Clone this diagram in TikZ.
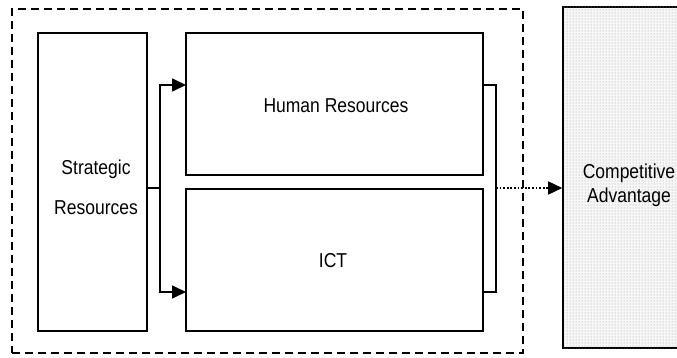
\documentclass[tikz,border=0pt]{standalone}
\usepackage{fontspec}
\usepackage{graphicx}
\setmainfont{Liberation Sans}
\usetikzlibrary{arrows.meta,patterns}
\newcommand{\vst}[1]{\scalebox{1}[1.15]{#1}}
\begin{document}
\begin{tikzpicture}[x=1pt,y=-1pt,
  boxstyle/.style={draw,line width=1.6pt,rectangle,inner sep=0pt,font=\fontsize{17.5}{21}\selectfont},
  txt/.style={font=\fontsize{17.5}{21}\selectfont,align=center,inner sep=0pt},
  conn/.style={line width=1.6pt},
  arr/.style={conn,-{Triangle[length=14pt,width=13pt]}},
  dotarr/.style={line width=1.6pt,dash pattern=on 1.8pt off 1.8pt,-{Triangle[length=14pt,width=13pt]}}]
\clip (0,0) rectangle (677,358);
\fill[white] (0,0) rectangle (677,358);
% outer dashed box
\node[draw,line width=1.3pt,dash pattern=on 8pt off 5pt,minimum width=511pt,minimum height=344pt,inner sep=0pt] (outer) at (267.5,181) {};
% boxes
\node[boxstyle,minimum width=109pt,minimum height=298pt] (strat) at (92.5,182) {};
\node[txt] (strattext1) at (96,169) {\vst{Strategic}};
\node[txt] (strattext2) at (96,207.5) {\vst{Resources}};
\node[boxstyle,minimum width=297pt,minimum height=142pt] (hr) at (334.5,104) {};
\node[txt] (hrtext) at (336,105.5) {\vst{Human Resources}};
\node[boxstyle,minimum width=297pt,minimum height=142pt] (ict) at (334.5,260) {};
\node[txt] (icttext) at (333,260.5) {\vst{ICT}};
% competitive
\node[draw,line width=1.6pt,minimum width=130pt,minimum height=341pt,inner sep=0pt,
      fill=black!3,postaction={pattern=dots,pattern color=black!40}] (comp) at (628,177.5) {};
\node[txt] (comptext1) at (629,173) {\vst{Competitive}};
\node[txt] (comptext2) at (629,197) {\vst{Advantage}};
% coordinates
\coordinate (j) at (160,188);
\coordinate (hrin) at (186,85);
\coordinate (ictin) at (186,292);
\coordinate (b) at (496,188);
% connectors
\draw[conn] (strat.east |- j) -- (j);
\draw[arr] (j) |- (hrin);
\draw[arr] (j) |- (ictin);
\draw[conn] (hr.east |- hrin) -| (b) |- (ict.east |- ictin);
\draw[dotarr] (b) -- (comp.west |- b);
\end{tikzpicture}
\end{document}
